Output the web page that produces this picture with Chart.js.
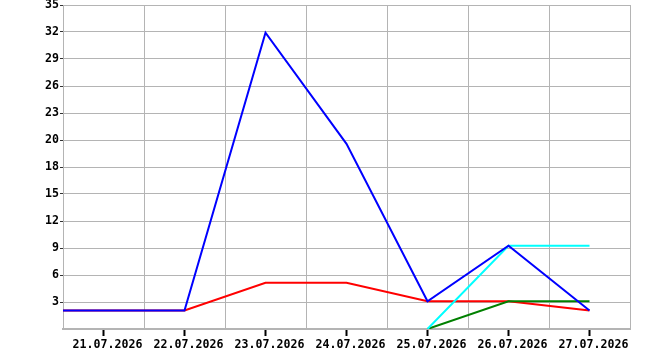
<!DOCTYPE html>
<html>
<head>
<meta charset="utf-8">
<script src="https://cdn.jsdelivr.net/npm/chart.js@4.4.1/dist/chart.umd.min.js"></script>
<style>
    body { margin: 0; background: #fff; }
    #caja { width: 670px; height: 350px; }
</style>
</head>
<body>
<div id="caja"><canvas id="myChart" width="670" height="350"></canvas></div>
<script>
// datos del grafico
const fechas = ['20.07.2026', '21.07.2026', '22.07.2026', '23.07.2026', '24.07.2026', '25.07.2026', '26.07.2026', '27.07.2026'];
const serieAzul = [2, 2, 2, 32, 20, 3, 9, 2];
const serieCian = [null, null, null, null, null, 0, 9, 9];
const serieVerde = [null, null, null, null, null, 0, 3, 3];
const serieRoja = [2, 2, 2, 5, 5, 3, 3, 2];
const marcasY = [0, 3, 6, 9, 12, 15, 18, 20, 23, 26, 29, 32, 35];

const gris = '#b4b4b4';

//funcion para armar los puntos {x, y}
function puntos(valores) {
    let lista = [];
    valores.forEach((v, i) => {
        if (v !== null) lista.push({ x: i, y: v });
    });
    return lista;
}

function serie(valores, color) {
    return {
        data: puntos(valores),
        borderColor: color,
        borderWidth: 2,
        pointRadius: 0,
        tension: 0,
        fill: false
    };
}

const data = {
    datasets: [
        serie(serieAzul, '#0000ff'),
        serie(serieCian, '#00ffff'),
        serie(serieVerde, '#008000'),
        serie(serieRoja, '#ff0000')
    ]
};

const fuente = { family: 'DejaVu Sans Mono', size: 11.6, weight: 'bold' };

const config = {
    type: 'line',
    data: data,
    options: {
        responsive: false,
        animation: false,
        layout: { padding: { top: 5, right: 40, bottom: 0, left: 0 } },
        plugins: {
            legend: { display: false },
            tooltip: { enabled: false }
        },
        scales: {
            x: {
                type: 'linear',
                min: 0.5,
                max: fechas.length - 0.5,
                afterBuildTicks: scale => {
                    let t = [];
                    for (let v = 0.5; v <= fechas.length - 0.5; v += 0.5) t.push({ value: v });
                    scale.ticks = t;
                },
                afterFit: scale => {
                    scale.height = 21;
                    scale.paddingLeft = 0;
                    scale.paddingRight = 0;
                },
                border: { color: gris, width: 2 },
                grid: {
                    color: ctx => (ctx.tick && ctx.tick.value % 1 === 0) ? 'rgba(0,0,0,0)' : gris,
                    tickColor: ctx => (ctx.tick && ctx.tick.value % 1 === 0) ? '#000' : 'rgba(0,0,0,0)',
                    tickLength: 7,
                    tickWidth: 2,
                    lineWidth: 1
                },
                ticks: {
                    autoSkip: false,
                    maxRotation: 0,
                    padding: 2,
                    labelOffset: 4,
                    color: '#000',
                    font: fuente,
                    callback: v => (v % 1 === 0) ? fechas[v] : ''
                }
            },
            y: {
                min: 0,
                max: 35,
                afterBuildTicks: scale => {
                    let t = [];
                    for (let i = 0; i <= 12; i++) t.push({ value: 35 * i / 12 });
                    scale.ticks = t;
                },
                afterFit: scale => {
                    scale.width = 63;
                    scale.paddingTop = 0;
                    scale.paddingBottom = 0;
                },
                border: { color: gris, width: 1 },
                grid: {
                    color: gris,
                    tickColor: ctx => (ctx.index === 0) ? 'rgba(0,0,0,0)' : '#333',
                    tickLength: 3,
                    lineWidth: 1
                },
                ticks: {
                    padding: 1,
                    color: '#000',
                    font: fuente,
                    callback: (v, i) => i === 0 ? '' : String(marcasY[i])
                }
            }
        }
    }
};

const ctx = document.getElementById('myChart').getContext('2d');
new Chart(ctx, config);
</script>
</body>
</html>
